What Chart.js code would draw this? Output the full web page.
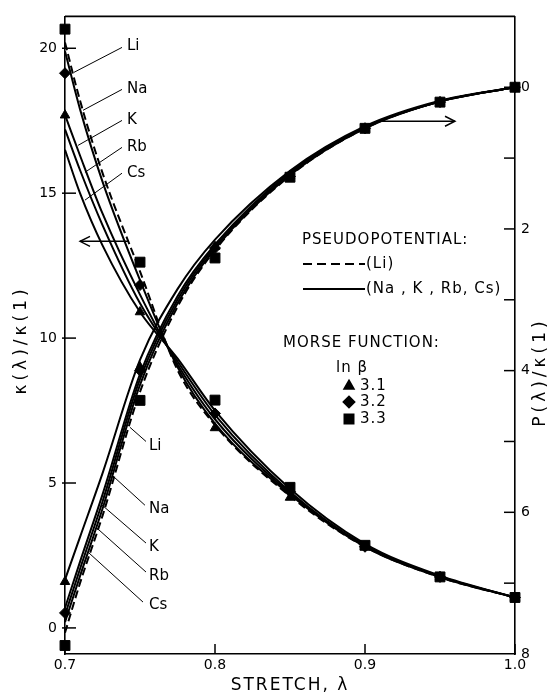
<!DOCTYPE html>
<html lang="en">
<head>
    <meta charset="UTF-8">
    <title>Stretch curves</title>
    <script src="https://cdn.jsdelivr.net/npm/chart.js"></script>
    <style>
        html, body { margin: 0; padding: 0; background: #fff; }
        #wrap { width: 559px; height: 696px; position: relative; }
    </style>
</head>
<body>
<div id="wrap"><canvas id="chart"></canvas></div>
<script>
    // stretch values used for the pseudopotential curves
    const lambdaGrid = [0.7, 0.71, 0.725, 0.75, 0.775, 0.8, 0.85, 0.9, 0.95, 1.0];

    // kappa(lambda)/kappa(1), left axis
    const kappaLi = [20.2, 18.2, 15.7, 12.3, 8.9, 7.0, 4.55, 2.8, 1.75, 1.05];
    const kappaNa = [19.9, 17.9, 15.4, 12.0, 9.0, 7.05, 4.6, 2.8, 1.75, 1.05];
    const kappaK  = [17.7, 16.3, 14.3, 11.5, 9.1, 7.2, 4.65, 2.82, 1.77, 1.05];
    const kappaRb = [17.2, 15.8, 13.9, 11.2, 9.2, 7.35, 4.7, 2.85, 1.78, 1.05];
    const kappaCs = [16.5, 15.0, 13.2, 10.9, 9.3, 7.5, 4.8, 2.9, 1.8, 1.05];

    // P(lambda)/kappa(1), right axis (reversed)
    const pressLi = [7.7, 7.0, 6.05, 4.3, 3.1, 2.3, 1.25, 0.58, 0.2, 0];
    const pressNa = [7.55, 6.9, 5.95, 4.2, 3.05, 2.28, 1.24, 0.58, 0.2, 0];
    const pressK  = [7.45, 6.8, 5.85, 4.12, 3.0, 2.25, 1.22, 0.57, 0.2, 0];
    const pressRb = [7.35, 6.7, 5.75, 4.05, 2.95, 2.22, 1.2, 0.56, 0.2, 0];
    const pressCs = [6.95, 6.35, 5.45, 3.85, 2.85, 2.15, 1.18, 0.55, 0.19, 0];

    // Morse function points, ln beta = 3.1 / 3.2 / 3.3
    const morseLambda = [0.7, 0.75, 0.8, 0.85, 0.9, 0.95, 1.0];
    const kappaB31 = [17.69, 10.9, 6.9, 4.5, 2.8, 1.76, 1.05];
    const kappaB32 = [19.14, 11.83, 7.4, 4.7, 2.8, 1.76, 1.05];
    const kappaB33 = [20.66, 12.62, 7.86, 4.85, 2.85, 1.76, 1.05];
    const pressB31 = [6.98, 3.95, 2.25, 1.25, 0.58, 0.21, 0];
    const pressB32 = [7.42, 4.0, 2.27, 1.26, 0.58, 0.21, 0];
    const pressB33 = [7.88, 4.42, 2.41, 1.27, 0.58, 0.21, 0];

    // ticks
    const lambdaTicks = [0.7, 0.8, 0.9, 1.0];
    const kappaTicks = [0, 5, 10, 15, 20];
    const pressTicks = [0, 2, 4, 6, 8];
    const pressMinorTicks = [1, 3, 5, 7];

    // curve labels: text spot, leader start, leader tip (data units)
    const kappaLabels = [
        { text: 'Li', at: [0.7413, 20.07], from: [0.738, 20.03], to: [0.706, 19.17] },
        { text: 'Na', at: [0.7413, 18.58], from: [0.738, 18.58], to: [0.712, 17.86] },
        { text: 'K',  at: [0.7413, 17.51], from: [0.738, 17.51], to: [0.7087, 16.65] },
        { text: 'Rb', at: [0.7413, 16.58], from: [0.738, 16.58], to: [0.7133, 15.72] },
        { text: 'Cs', at: [0.7413, 15.69], from: [0.738, 15.69], to: [0.7133, 14.76] }
    ];
    const pressLabels = [
        { text: 'Li', at: [0.756, 5.07], from: [0.754, 5.0], to: [0.7433, 4.8] },
        { text: 'Na', at: [0.756, 5.96], from: [0.7533, 5.9], to: [0.7313, 5.475] },
        { text: 'K',  at: [0.756, 6.49], from: [0.754, 6.434], to: [0.7247, 5.898] },
        { text: 'Rb', at: [0.756, 6.90], from: [0.754, 6.843], to: [0.7213, 6.223] },
        { text: 'Cs', at: [0.756, 7.31], from: [0.752, 7.267], to: [0.7153, 6.561] }
    ];

    const FONT = '"DejaVu Sans", sans-serif';

    function pts(xs, ys) {
        return xs.map((x, i) => ({ x: x, y: ys[i] }));
    }

    function curve(ys, axis, dash) {
        return {
            data: pts(lambdaGrid, ys),
            yAxisID: axis,
            borderColor: '#000',
            borderWidth: 2,
            borderDash: dash || [],
            pointRadius: 0,
            cubicInterpolationMode: 'monotone',
            fill: false
        };
    }

    function markers(ys, axis, style, r) {
        return {
            data: pts(morseLambda, ys),
            yAxisID: axis,
            showLine: false,
            pointStyle: style,
            pointRadius: r,
            pointBackgroundColor: '#000',
            pointBorderColor: '#000',
            pointBorderWidth: 1,
            clip: false
        };
    }

    const overlay = {
        id: 'overlay',
        afterDraw(chart) {
            const ctx = chart.ctx;
            const a = chart.chartArea;
            const sx = chart.scales.x, sk = chart.scales.y, sp = chart.scales.y2;
            ctx.save();
            ctx.strokeStyle = '#000';
            ctx.fillStyle = '#000';
            ctx.lineCap = 'butt';

            function seg(x1, y1, x2, y2) {
                ctx.beginPath(); ctx.moveTo(x1, y1); ctx.lineTo(x2, y2); ctx.stroke();
            }

            // frame top
            ctx.lineWidth = 1.6;
            seg(a.left, a.top, a.right, a.top);

            // inward tick marks
            ctx.lineWidth = 1.5;
            kappaTicks.forEach(v => { const py = sk.getPixelForValue(v); seg(a.left - 3, py, a.left + 11, py); });
            pressTicks.concat(pressMinorTicks).forEach(v => {
                const py = sp.getPixelForValue(v);
                if (py > a.top && py < a.bottom - 2) seg(a.right - 11, py, a.right, py);
            });
            lambdaTicks.forEach(v => { const px = sx.getPixelForValue(v); seg(px, a.bottom, px, a.bottom - 10); });

            // curve labels with leaders
            ctx.lineWidth = 1;
            ctx.font = '15px ' + FONT;
            ctx.textAlign = 'left';
            ctx.textBaseline = 'middle';
            function labels(list, sy) {
                list.forEach(l => {
                    seg(sx.getPixelForValue(l.from[0]), sy.getPixelForValue(l.from[1]),
                        sx.getPixelForValue(l.to[0]), sy.getPixelForValue(l.to[1]));
                    ctx.fillText(l.text, sx.getPixelForValue(l.at[0]), sy.getPixelForValue(l.at[1]));
                });
            }
            labels(kappaLabels, sk);
            labels(pressLabels, sp);

            // arrows pointing at the axis each curve belongs to
            function arrow(x1, x2, y) {
                const d = x2 > x1 ? -1 : 1;
                ctx.lineWidth = 1.4;
                seg(x1, y, x2, y);
                ctx.beginPath();
                ctx.moveTo(x2 + d * 10, y - 5);
                ctx.lineTo(x2, y);
                ctx.lineTo(x2 + d * 10, y + 5);
                ctx.stroke();
            }
            const ky = sk.getPixelForValue(13.34);
            arrow(sx.getPixelForValue(0.742), sx.getPixelForValue(0.71), ky);
            const py = sp.getPixelForValue(0.48);
            arrow(sx.getPixelForValue(0.9113), sx.getPixelForValue(0.96), py);

            // legend block
            ctx.font = '15px ' + FONT;
            ctx.letterSpacing = '1px';
            ctx.textBaseline = 'middle';
            ctx.fillText('PSEUDOPOTENTIAL:', 302, 240);
            ctx.lineWidth = 1.8;
            ctx.setLineDash([9, 5]);
            seg(303, 264, 365, 264);
            ctx.setLineDash([]);
            seg(303, 289, 365, 289);
            ctx.fillText('(Li)', 366, 264);
            ctx.fillText('(Na , K , Rb, Cs)', 366, 289);
            ctx.fillText('MORSE FUNCTION:', 283, 343);
            ctx.fillText('ln \u03b2', 336, 368);
            const ms = [['triangle', '3.1', 386], ['rectRot', '3.2', 402], ['rect', '3.3', 419]];
            ms.forEach(m => {
                Chart.helpers.drawPoint(ctx, { pointStyle: m[0], radius: m[0] === 'rect' ? 6.5 : 5.5, borderWidth: 1 }, 349, m[2]);
                ctx.fill();
                ctx.fillText(m[1], 360, m[2]);
            });

            // axis titles
            ctx.font = '17px ' + FONT;
            ctx.letterSpacing = '2px';
            ctx.textAlign = 'center';
            ctx.fillText('STRETCH, \u03bb', 290, 686);
            ctx.letterSpacing = '4px';
            ctx.save();
            ctx.translate(22, 340);
            ctx.rotate(-Math.PI / 2);
            ctx.fillText('\u03ba(\u03bb)/\u03ba(1)', 0, 0);
            ctx.restore();
            ctx.save();
            ctx.translate(541, 372);
            ctx.rotate(-Math.PI / 2);
            ctx.fillText('P(\u03bb)/\u03ba(1)', 0, 0);
            ctx.restore();
            ctx.letterSpacing = '0px';

            ctx.restore();
        }
    };

    const tickFont = { family: FONT, size: 14 };

    new Chart(document.getElementById('chart'), {
        type: 'line',
        data: {
            datasets: [
                curve(kappaLi, 'y', [8, 4]),
                curve(kappaNa, 'y'),
                curve(kappaK, 'y'),
                curve(kappaRb, 'y'),
                curve(kappaCs, 'y'),
                curve(pressLi, 'y2', [8, 4]),
                curve(pressNa, 'y2'),
                curve(pressK, 'y2'),
                curve(pressRb, 'y2'),
                curve(pressCs, 'y2'),
                markers(kappaB31, 'y', 'triangle', 5.5),
                markers(kappaB32, 'y', 'rectRot', 5.5),
                markers(kappaB33, 'y', 'rect', 7),
                markers(pressB31, 'y2', 'triangle', 5.5),
                markers(pressB32, 'y2', 'rectRot', 5.5),
                markers(pressB33, 'y2', 'rect', 7)
            ]
        },
        options: {
            responsive: true,
            maintainAspectRatio: false,
            animation: false,
            layout: { padding: { top: 16, left: 0, right: 0, bottom: 0 } },
            plugins: { legend: { display: false }, tooltip: { enabled: false } },
            scales: {
                x: {
                    type: 'linear',
                    min: 0.7,
                    max: 1.0,
                    afterBuildTicks: s => { s.ticks = lambdaTicks.map(v => ({ value: v })); },
                    afterFit: s => { s.height = 42; },
                    grid: { display: false, drawTicks: false },
                    border: { display: true, color: '#000', width: 1.6 },
                    ticks: { color: '#000', font: tickFont, padding: 3, maxRotation: 0,
                             callback: v => v.toFixed(1) }
                },
                y: {
                    position: 'left',
                    min: -0.9,
                    max: 21.1,
                    afterBuildTicks: s => { s.ticks = kappaTicks.map(v => ({ value: v })); },
                    afterFit: s => { s.width = 65; },
                    grid: { display: false, drawTicks: false },
                    border: { display: true, color: '#000', width: 1.6 },
                    ticks: { color: '#000', font: tickFont, padding: 8 }
                },
                y2: {
                    position: 'right',
                    reverse: true,
                    min: -1,
                    max: 8,
                    afterBuildTicks: s => { s.ticks = pressTicks.map(v => ({ value: v })); },
                    afterFit: s => { s.width = 44; },
                    grid: { display: false, drawTicks: false },
                    border: { display: true, color: '#000', width: 1.6 },
                    ticks: { color: '#000', font: tickFont, padding: 6 }
                }
            }
        },
        plugins: [overlay]
    });
</script>
</body>
</html>
